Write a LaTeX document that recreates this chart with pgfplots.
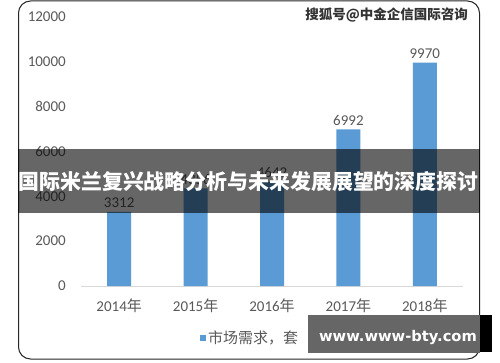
\documentclass[border=0pt]{standalone}
\usepackage{fontspec}
\setmainfont{Carlito}
\newfontfamily\cjk{Noto Sans CJK SC}
\newfontfamily\dvs{DejaVu Sans}
\usepackage{pgfplots}
\pgfplotsset{compat=1.18}
\definecolor{barblue}{HTML}{5B9BD5}
\definecolor{txtgray}{HTML}{595959}
\begin{document}
\begin{tikzpicture}[x=1bp,y=1bp]
\useasboundingbox (0,0) rectangle (500,362);
\fill[white] (0,0) rectangle (500,362);
\draw[black!85, line width=1bp, rounded corners=12bp] (18.5,3) rectangle (479.5,361);
\begin{axis}[
  at={(81bp,76bp)}, anchor=south west,
  scale only axis, width=382bp, height=269bp,
  xmin=-0.5, xmax=4.5, ymin=0, ymax=12000,
  ytick={0,2000,...,12000},
  xtick={0,1,2,3,4},
  xticklabels={2014{\cjk 年},2015{\cjk 年},2016{\cjk 年},2017{\cjk 年},2018{\cjk 年}},
  scaled y ticks=false,
  /pgf/number format/assume math mode=true,
  /pgf/number format/1000 sep={},
  axis x line*=bottom, axis y line*=left,
  y axis line style={draw=none},
  x axis line style={draw=black!15, line width=1bp},
  major tick length=0,
  tick label style={font=\fontsize{15bp}{18bp}\selectfont, text=txtgray},
  yticklabel style={anchor=east, inner sep=0pt, xshift=-15bp},
  xticklabel style={anchor=center, inner sep=0pt, yshift=-20bp},
  ybar, bar width=24bp,
  nodes near coords,
  every node near coord/.append style={font=\fontsize{15bp}{18bp}\selectfont, text=txtgray, anchor=center, yshift=9bp},
  legend style={at={(0.3115,-0.193)}, anchor=west, draw=none, fill=none, inner sep=0pt,
    font=\cjk\fontsize{15bp}{18bp}\selectfont, text=txtgray},
  legend image code/.code={\fill[barblue] (0bp,-3bp) rectangle (6bp,3bp);},
]
\addplot[fill=barblue, draw=none] coordinates {(0,3312) (1,4356) (2,4642) (3,6992) (4,9970)};
\addlegendentry{市场需求，套}
\end{axis}
\fill[black, opacity=0.6] (18,149) rectangle (480,213);
\node[text=white, inner sep=0pt, font=\cjk\bfseries\fontsize{20.9bp}{22bp}\selectfont] at (248.5,180) {国际米兰复兴战略分析与未来发展展望的深度探讨};
\node[anchor=east, inner sep=0pt, text=black!80, font=\cjk\bfseries\fontsize{13.5bp}{15bp}\selectfont] at (468,347) {搜狐号@中金企信国际咨询};
\fill[black!60] (308,9) rectangle (480,47);
\fill[black] (480,10) rectangle (492,47);
\node[text=white, inner sep=0pt, font=\dvs\bfseries\fontsize{14.7bp}{16bp}\selectfont] at (398,25) {www.www-bty.com};
\end{tikzpicture}
\end{document}
